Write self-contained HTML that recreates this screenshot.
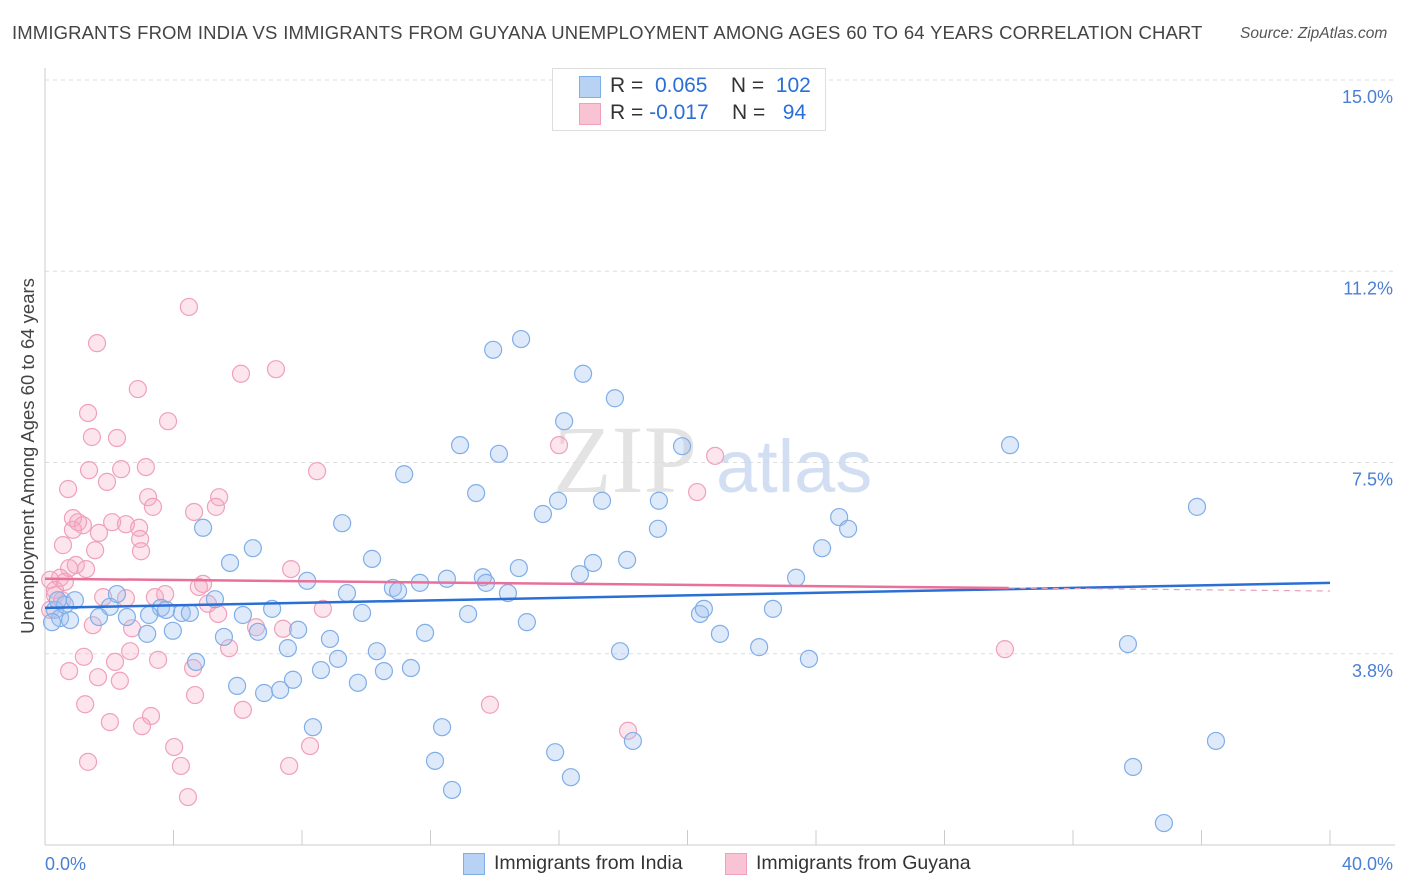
<!DOCTYPE html>
<html><head><meta charset="utf-8">
<style>
body{margin:0;background:#fff;font-family:"Liberation Sans",sans-serif;}
#wrap{position:relative;width:1406px;height:892px;overflow:hidden;}
.t{position:absolute;white-space:nowrap;}
</style></head>
<body>
<div id="wrap">
<div class="t" style="left:12px;top:22px;font-size:18.5px;letter-spacing:0.12px;word-spacing:0.5px;color:#444;">IMMIGRANTS FROM INDIA VS IMMIGRANTS FROM GUYANA UNEMPLOYMENT AMONG AGES 60 TO 64 YEARS CORRELATION CHART</div>
<div class="t" style="left:1240px;top:25px;font-size:15.5px;color:#555;font-style:italic;">Source: ZipAtlas.com</div>
<svg id="svg" width="1406" height="892" style="position:absolute;left:0;top:0"></svg>
</div>
<script>
const yTicks=[15.0,11.25,7.5,3.75];
const yTickLabels=["15.0%","11.2%","7.5%","3.8%"];
const xTickVals=[0,4,8,12,16,20,24,28,32,36,40];
const xLabels=["0.0%","40.0%"];
const indiaX=[14.82,13.95,16.75,17.74,16.16,12.92,14.13,19.83,30.04,11.18,13.42,15.97,17.34,19.11,15.50,35.86,9.25,4.92,19.08,24.72,25.00,6.47,5.76,10.18,14.75,17.06,18.12,24.19,16.65,13.63,13.73,12.51,11.67,8.16,10.83,10.99,9.40,14.41,23.38,5.29,2.24,2.02,3.61,4.26,3.77,2.55,1.68,3.24,4.51,6.16,7.07,9.87,13.17,15.00,20.39,20.51,22.66,6.63,7.88,11.83,21.01,3.18,3.98,5.57,7.56,8.87,10.33,17.90,22.23,33.71,23.78,4.70,9.12,8.59,10.55,11.39,5.98,6.82,7.32,7.72,9.74,8.34,12.36,15.88,18.30,36.45,12.14,33.87,16.37,12.67,34.83,0.31,0.47,0.62,0.78,0.93,0.22,0.40];
const indiaY=[9.92,9.71,9.24,8.76,8.31,7.84,7.67,7.82,7.84,7.27,6.90,6.75,6.75,6.75,6.49,6.63,6.31,6.22,6.20,6.43,6.20,5.82,5.53,5.61,5.43,5.53,5.59,5.82,5.31,5.25,5.14,5.22,5.14,5.18,5.04,4.98,4.94,4.94,5.24,4.82,4.92,4.67,4.65,4.55,4.61,4.47,4.47,4.51,4.55,4.51,4.63,4.55,4.53,4.37,4.53,4.63,4.63,4.18,4.22,4.16,4.14,4.14,4.20,4.08,3.86,4.04,3.80,3.80,3.88,3.94,3.65,3.59,3.65,3.43,3.41,3.47,3.12,2.98,3.04,3.24,3.18,2.31,2.31,1.82,2.04,2.04,1.65,1.53,1.33,1.08,0.43,4.61,4.45,4.71,4.41,4.80,4.37,4.80];
const guyanaX=[4.48,1.62,2.89,7.19,6.10,3.83,1.34,1.46,2.24,16.00,20.86,1.37,2.37,3.14,8.47,1.93,0.72,5.42,3.21,5.32,4.64,3.36,20.30,0.87,1.03,1.18,2.09,2.52,2.93,0.87,1.68,2.96,0.56,1.56,2.99,0.75,0.96,1.28,0.47,0.62,7.66,1.81,2.52,3.74,3.42,4.92,4.79,5.07,5.39,8.65,0.31,1.49,2.71,6.57,7.41,5.73,1.21,2.65,3.52,0.75,2.18,1.65,2.33,4.61,4.67,1.25,6.16,13.85,29.88,18.15,2.02,3.30,3.02,4.02,8.25,1.34,4.23,7.60,4.45,0.16,0.31,0.53,0.16];
const guyanaY=[10.55,9.84,8.94,9.33,9.24,8.31,8.47,8.00,7.98,7.84,7.63,7.35,7.37,7.41,7.33,7.12,6.98,6.82,6.82,6.63,6.53,6.63,6.92,6.41,6.33,6.27,6.33,6.29,6.22,6.18,6.12,6.00,5.88,5.78,5.76,5.43,5.49,5.41,5.24,5.16,5.41,4.86,4.84,4.92,4.86,5.12,5.06,4.73,4.53,4.63,4.90,4.31,4.25,4.27,4.24,3.86,3.69,3.80,3.63,3.41,3.59,3.29,3.22,3.47,2.94,2.76,2.65,2.75,3.84,2.24,2.41,2.53,2.33,1.92,1.94,1.63,1.55,1.55,0.94,5.20,5.00,4.80,4.61];
const indiaTrend=[4.65,5.14];
const guyanaTrend=[5.22,4.98];
const guyanaSolidEnd=30;

const NS="http://www.w3.org/2000/svg";
const svg=document.getElementById('svg');
const X=v=>45+v*32.125;
const Y=v=>845-v*51;
function mk(tag,attrs,parent){const e=document.createElementNS(NS,tag);for(const k in attrs)e.setAttribute(k,attrs[k]);(parent||svg).appendChild(e);return e;}

yTicks.forEach((v,i)=>{
  const g=mk('line',{x1:45,x2:1395,y1:Y(v),y2:Y(v),stroke:'#ddd','stroke-dasharray':'4,4'});
  
  
  const t=mk('text',{x:1393,y:Y(v)+23,'text-anchor':'end','font-size':18,fill:'#4a7fd4','font-family':'Liberation Sans, sans-serif'});
  t.textContent=yTickLabels[i];
  
  
});
const ax=mk('line',{x1:45,x2:45,y1:68,y2:845,stroke:'#ccc'});


const bx=mk('line',{x1:45,x2:1395,y1:845,y2:845,stroke:'#ccc'});


xTickVals.forEach(v=>{
  const l=mk('line',{x1:X(v),x2:X(v),y1:830,y2:845,stroke:'#ccc'});
  
  
});
[[0,'start',45],[40,'end',1393]].forEach((a,i)=>{
  const t=mk('text',{x:a[2],y:870,'text-anchor':a[1],'font-size':18,fill:'#4a7fd4','font-family':'Liberation Sans, sans-serif'});
  t.textContent=xLabels[i];
  
  
});
const yt=mk('text',{x:0,y:0,transform:'translate(34,456) rotate(-90)','text-anchor':'middle','font-size':18.5,fill:'#444','font-family':'Liberation Sans, sans-serif'});
yt.textContent='Unemployment Among Ages 60 to 64 years';


const w1=mk('text',{x:553,y:492,'font-size':96,fill:'#ddd','font-family':'Liberation Serif, serif','opacity':0.8});
w1.textContent='ZIP';


const w2=mk('text',{x:716,y:492,'font-size':74,fill:'#c8d8f0','font-family':'Liberation Sans, sans-serif','opacity':0.8});
w2.textContent='atlas';


guyanaX.forEach((x,i)=>{
  const c=mk('circle',{cx:X(x),cy:Y(guyanaY[i]),r:8.5,fill:'rgba(245,170,195,0.3)',stroke:'#f0a0bc','stroke-width':1.2});
  
  
});
indiaX.forEach((x,i)=>{
  const c=mk('circle',{cx:X(x),cy:Y(indiaY[i]),r:8.5,fill:'rgba(160,196,240,0.35)',stroke:'#80aee8','stroke-width':1.2});
  
  
});
const bl=mk('line',{x1:X(0),y1:Y(indiaTrend[0]),x2:X(40),y2:Y(indiaTrend[1]),stroke:'#2a6fd6','stroke-width':2.5});


const gy=v=>guyanaTrend[0]+(guyanaTrend[1]-guyanaTrend[0])*v/40;
const pl=mk('line',{x1:X(0),y1:Y(gy(0)),x2:X(guyanaSolidEnd),y2:Y(gy(guyanaSolidEnd)),stroke:'#e8709a','stroke-width':2.5});


const pd=mk('line',{x1:X(guyanaSolidEnd),y1:Y(gy(guyanaSolidEnd)),x2:X(40),y2:Y(gy(40)),stroke:'#e8a0b8','stroke-width':1.2,'stroke-dasharray':'6,5'});


</script>
<div class="t" style="left:552px;top:68px;width:272px;height:61px;border:1px solid #ddd;background:#fff;font-size:21px;">
  <div class="t" style="left:26px;top:7px;width:20px;height:20px;background:#b8d2f4;border:1px solid #80aee8;"></div>
  <div class="t" style="left:57px;top:5px;color:#333;">R = &nbsp;<span style="color:#2a6fd6">0.065</span>&nbsp;&nbsp;&nbsp; N = &nbsp;<span style="color:#2a6fd6">102</span></div>
  <div class="t" style="left:26px;top:34px;width:20px;height:20px;background:#f8c4d4;border:1px solid #f0a0bc;"></div>
  <div class="t" style="left:57px;top:32px;color:#333;">R = <span style="color:#2a6fd6">-0.017</span>&nbsp;&nbsp;&nbsp; N = &nbsp;&nbsp;<span style="color:#2a6fd6">94</span></div>
</div>
<div class="t" style="left:463px;top:853px;width:20px;height:20px;background:#b8d2f4;border:1px solid #80aee8;"></div>
<div class="t" style="left:494px;top:852px;font-size:19.5px;color:#333;">Immigrants from India</div>
<div class="t" style="left:725px;top:853px;width:20px;height:20px;background:#f8c4d4;border:1px solid #f0a0bc;"></div>
<div class="t" style="left:756px;top:852px;font-size:19.5px;color:#333;">Immigrants from Guyana</div>
</body></html>
